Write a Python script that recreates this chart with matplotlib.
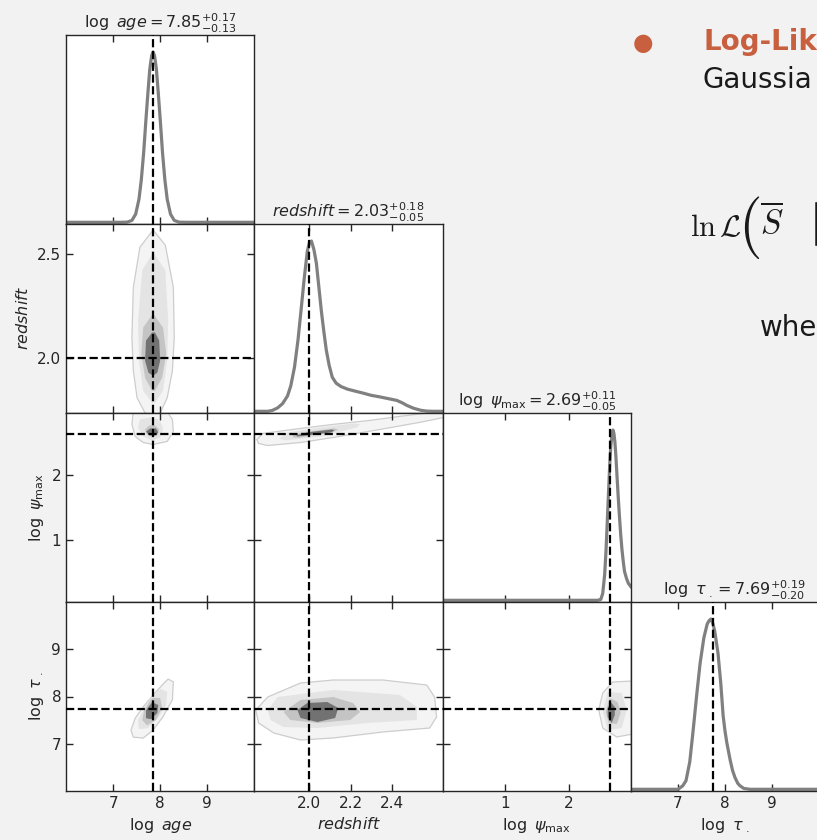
import matplotlib.pyplot as plt

# --- posterior summary (titles) and true values (dashed lines) ---
medians = [7.85, 2.03, 2.69, 7.69]
err_hi = [0.17, 0.18, 0.11, 0.19]
err_lo = [0.13, 0.05, 0.05, 0.20]
truths = [7.85, 2.00, 2.65, 7.74]

labels = [r"\log\ age", r"redshift", r"\log\ \psi_{\max}", r"\log\ \tau_{\ .}"]

xticks = [[7, 8, 9], [2.0, 2.2, 2.4], [1, 2], [7, 8, 9]]
xticklabels = [["7", "8", "9"], ["2.0", "2.2", "2.4"], ["1", "2"], ["7", "8", "9"]]
yticks = [None, [2.0, 2.5], [1, 2], [7, 8, 9]]
yticklabels = [None, ["2.0", "2.5"], ["1", "2"], ["7", "8", "9"]]
lims = [(6.0, 10.0), (1.733, 2.646), (0.03, 2.97), (6.0, 10.0)]

# --- 1D marginals (peak = 1) ---
age_x = [6.0, 7.15, 7.3, 7.4, 7.48, 7.55, 7.6, 7.65, 7.7, 7.74, 7.78, 7.82, 7.85, 7.88,
         7.92, 7.96, 8.0, 8.05, 8.1, 8.15, 8.22, 8.3, 8.4, 8.55, 10.0]
age_p = [0.0, 0.0, 0.001, 0.011, 0.048, 0.135, 0.25, 0.41, 0.61, 0.76, 0.90, 0.98, 1.0, 0.98,
         0.90, 0.76, 0.61, 0.41, 0.25, 0.135, 0.048, 0.011, 0.001, 0.0, 0.0]

z_x = [1.733, 1.798, 1.82, 1.846, 1.87, 1.894, 1.91, 1.928, 1.945, 1.961, 1.975, 1.990, 2.000,
       2.010, 2.022, 2.034, 2.046, 2.058, 2.070, 2.082, 2.096, 2.111, 2.13, 2.154, 2.185, 2.217,
       2.26, 2.299, 2.34, 2.376, 2.424, 2.45, 2.472, 2.505, 2.540, 2.57, 2.602, 2.646]
z_p = [0.0, 0.0, 0.005, 0.02, 0.045, 0.09, 0.15, 0.26, 0.42, 0.61, 0.78, 0.94, 0.99,
       1.0, 0.95, 0.87, 0.73, 0.59, 0.47, 0.36, 0.27, 0.20, 0.165, 0.145, 0.13, 0.12,
       0.107, 0.094, 0.085, 0.076, 0.064, 0.05, 0.035, 0.018, 0.006, 0.001, 0.0, 0.0]

psi_x = [0.03, 2.45, 2.50, 2.53, 2.56, 2.58, 2.60, 2.62, 2.64, 2.655, 2.67, 2.69, 2.705, 2.72,
         2.735, 2.75, 2.77, 2.79, 2.81, 2.83, 2.85, 2.87, 2.90, 2.93, 2.97]
psi_p = [0.0, 0.0, 0.005, 0.04, 0.15, 0.28, 0.45, 0.63, 0.80, 0.90, 0.96, 1.0, 0.98, 0.93,
         0.85, 0.75, 0.62, 0.50, 0.39, 0.30, 0.23, 0.17, 0.13, 0.10, 0.08]

tau_x = [6.0, 7.0, 7.1, 7.17, 7.25, 7.32, 7.40, 7.47, 7.55, 7.62, 7.66, 7.70, 7.74, 7.78,
         7.85, 7.91, 7.96, 8.0, 8.04, 8.11, 8.16, 8.21, 8.27, 8.32, 8.4, 8.53, 10.0]
tau_p = [0.0, 0.0, 0.02, 0.05, 0.16, 0.34, 0.56, 0.74, 0.89, 0.97, 0.99, 1.0, 0.975, 0.93,
         0.80, 0.62, 0.43, 0.34, 0.27, 0.17, 0.11, 0.07, 0.035, 0.02, 0.005, 0.0, 0.0]

# --- 2D credible regions: outline points per level, outer -> inner ---
age_z = [
    [(7.85, 2.617), (7.57, 2.534), (7.43, 2.340), (7.40, 2.097), (7.43, 1.937), (7.51, 1.806),
     (7.68, 1.733), (7.85, 1.719), (8.00, 1.733), (8.15, 1.806), (8.26, 1.937), (8.30, 2.097),
     (8.28, 2.340), (8.11, 2.544)],
    [(7.85, 2.510), (7.62, 2.423), (7.53, 2.180), (7.55, 1.986), (7.64, 1.840), (7.83, 1.782),
     (7.89, 1.782), (8.06, 1.840), (8.15, 1.986), (8.17, 2.180), (8.11, 2.423)],
    [(7.85, 2.214), (7.64, 2.146), (7.60, 2.020), (7.68, 1.903), (7.83, 1.840), (7.89, 1.840),
     (8.04, 1.903), (8.13, 2.020), (8.06, 2.146)],
    [(7.83, 2.122), (7.89, 2.122), (7.98, 2.083), (8.00, 1.986), (7.94, 1.928), (7.85, 1.913),
     (7.75, 1.928), (7.68, 1.986), (7.70, 2.083)],
]
age_psi = [
    [(7.43, 3.01), (7.40, 2.793), (7.47, 2.605), (7.64, 2.511), (7.85, 2.480), (8.15, 2.527),
     (8.28, 2.683), (8.26, 2.871), (8.13, 3.01)],
    [(7.57, 2.871), (7.53, 2.746), (7.64, 2.605), (7.83, 2.543), (8.00, 2.589), (8.06, 2.714),
     (8.00, 2.855), (7.83, 2.902)],
    [(7.68, 2.714), (7.77, 2.777), (7.89, 2.777), (7.98, 2.714), (7.94, 2.621), (7.81, 2.605),
     (7.70, 2.652)],
    [(7.70, 2.683), (7.79, 2.730), (7.91, 2.730), (7.96, 2.668), (7.89, 2.621), (7.77, 2.621)],
]
z_psi = [
    [(1.745, 2.558), (1.774, 2.652), (1.846, 2.683), (1.957, 2.730), (2.116, 2.793), (2.294, 2.855),
     (2.439, 2.918), (2.559, 2.964), (2.655, 3.011), (2.655, 2.902), (2.535, 2.824), (2.342, 2.714),
     (2.116, 2.589), (1.957, 2.511), (1.798, 2.464), (1.754, 2.496)],
    [(1.855, 2.574), (1.894, 2.668), (2.058, 2.746), (2.217, 2.808), (2.246, 2.793), (2.231, 2.746),
     (2.058, 2.605), (1.880, 2.543)],
    [(1.918, 2.621), (1.961, 2.668), (2.121, 2.730), (2.140, 2.714), (2.121, 2.683), (1.957, 2.589),
     (1.923, 2.589)],
    [(1.937, 2.621), (1.990, 2.668), (2.111, 2.714), (2.121, 2.699), (2.106, 2.668), (1.942, 2.605)],
]
age_tau = [
    [(8.17, 8.37), (8.28, 8.31), (8.26, 7.93), (8.06, 7.57), (7.85, 7.29), (7.64, 7.12),
     (7.43, 7.14), (7.38, 7.29), (7.47, 7.54), (7.64, 7.78), (7.85, 8.03), (8.04, 8.24)],
    [(8.00, 8.16), (8.15, 8.10), (8.13, 7.82), (7.96, 7.55), (7.74, 7.33), (7.55, 7.31),
     (7.53, 7.50), (7.66, 7.76), (7.83, 8.01)],
    [(7.83, 7.97), (8.00, 7.97), (8.04, 7.76), (7.91, 7.50), (7.72, 7.39), (7.62, 7.50),
     (7.66, 7.71)],
    [(7.83, 7.88), (7.96, 7.82), (7.94, 7.65), (7.81, 7.52), (7.70, 7.54), (7.70, 7.71)],
]
z_tau = [
    [(1.740, 7.714), (1.798, 7.989), (1.957, 8.286), (2.116, 8.349), (2.357, 8.349), (2.569, 8.243),
     (2.607, 7.989), (2.617, 7.566), (2.583, 7.333), (2.357, 7.249), (2.116, 7.122), (1.957, 7.079),
     (1.827, 7.228), (1.754, 7.439)],
    [(1.798, 7.714), (1.846, 7.989), (2.116, 8.138), (2.439, 8.032), (2.521, 7.778), (2.521, 7.503),
     (2.280, 7.439), (2.039, 7.333), (1.875, 7.354), (1.812, 7.503)],
    [(1.875, 7.672), (1.957, 7.926), (2.116, 7.989), (2.212, 7.862), (2.246, 7.672), (2.198, 7.503),
     (2.039, 7.439), (1.908, 7.503)],
    [(1.942, 7.714), (1.990, 7.862), (2.087, 7.884), (2.140, 7.757), (2.125, 7.545), (2.039, 7.460),
     (1.957, 7.545)],
]
psi_tau = [
    [(2.686, 8.307), (3.0, 8.328), (3.0, 7.206), (2.749, 7.143), (2.530, 7.333), (2.468, 7.714),
     (2.530, 8.074)],
    [(2.608, 8.095), (2.827, 8.074), (2.905, 7.714), (2.827, 7.333), (2.608, 7.291), (2.530, 7.672)],
    [(2.639, 7.968), (2.764, 7.884), (2.811, 7.651), (2.749, 7.418), (2.624, 7.439), (2.577, 7.672)],
    [(2.655, 7.884), (2.718, 7.778), (2.718, 7.609), (2.671, 7.439), (2.608, 7.566), (2.608, 7.757)],
]

marginals = [(age_x, age_p), (z_x, z_p), (psi_x, psi_p), (tau_x, tau_p)]
regions = {(1, 0): age_z, (2, 0): age_psi, (2, 1): z_psi,
           (3, 0): age_tau, (3, 1): z_tau, (3, 2): psi_tau}

level_colors = ["#f4f4f4", "#e4e4e4", "#c4c4c4", "#727272"]
ink = "#262626"

fig = plt.figure(figsize=(8.17, 8.40), dpi=100)
fig.patch.set_facecolor("#f2f2f2")

W, H = 817.0, 840.0
x0, y0, cw, ch = 66.0, 35.0, 188.3, 189.0

for i in range(4):
    for j in range(i + 1):
        left = (x0 + cw * j) / W
        bottom = 1 - (y0 + ch * (i + 1)) / H
        ax = fig.add_axes([left, bottom, cw / W, ch / H])
        ax.set_facecolor("white")
        for s in ax.spines.values():
            s.set_color(ink)
            s.set_linewidth(1.0)
        ax.tick_params(direction="in", length=5, width=1, colors=ink,
                       labelsize=11, top=True, right=True)

        ax.set_xlim(lims[j])
        ax.set_xticks(xticks[j])
        if i == 3:
            ax.set_xticklabels(xticklabels[j])
            ax.set_xlabel("$" + labels[j] + "$", fontsize=11.5, color=ink)
        else:
            ax.set_xticklabels([])

        if i == j:
            px, pp = marginals[i]
            ax.plot(px, pp, color="#808080", lw=2.3, solid_joinstyle="round", zorder=2)
            ax.axvline(truths[i], color="k", ls="--", lw=1.6, zorder=3)
            ax.set_ylim(-0.01, 1.1)
            ax.set_yticks([])
            ttl = (f"${labels[i]} = {medians[i]:.2f}"
                   f"^{{+{err_hi[i]:.2f}}}_{{-{err_lo[i]:.2f}}}$")
            t = ax.set_title(ttl, fontsize=11.5, color=ink, pad=5)
            if i == 3:
                t.set_x(0.548)
            continue

        for level, poly in enumerate(regions[(i, j)]):
            xs = [p[0] for p in poly]
            ys = [p[1] for p in poly]
            if level == 0:
                ax.fill(xs, ys, facecolor=level_colors[0], edgecolor="#cdcdcd",
                        lw=0.9, zorder=1)
            else:
                ax.fill(xs, ys, facecolor=level_colors[level], edgecolor="none", zorder=1 + level)
        ax.axvline(truths[j], color="k", ls="--", lw=1.6, zorder=6)
        ax.axhline(truths[i], color="k", ls="--", lw=1.6, zorder=6)

        ax.set_ylim(lims[i])
        ax.set_yticks(yticks[i])
        if j == 0:
            ax.set_yticklabels(yticklabels[i])
            ax.set_ylabel("$" + labels[i] + "$", fontsize=11.5, color=ink)
        else:
            ax.set_yticklabels([])

# slide text that is partly visible on the right
accent = "#c8603f"
fig.text(643 / W, 1 - 43 / H, "\u25cf", color=accent, fontsize=17, ha="center", va="center")
fig.text(703 / W, 1 - 42 / H, "Log-Lik", color=accent, fontsize=20, fontweight="bold",
         ha="left", va="center")
fig.text(703 / W, 1 - 80 / H, "Gaussia", color="#1a1a1a", fontsize=20, ha="left", va="center")
fig.text(690 / W, 1 - 228 / H, r"$\ln\mathcal{L}$", math_fontfamily="cm", fontsize=22,
         color="#1a1a1a", ha="left", va="center")
fig.text(738 / W, 1 - 228 / H, r"$($", math_fontfamily="cm", fontsize=44,
         color="#1a1a1a", ha="left", va="center")
fig.text(760 / W, 1 - 222 / H, r"$\overline{S}$", math_fontfamily="cm", fontsize=24,
         color="#1a1a1a", ha="left", va="center")
fig.text(809 / W, 1 - 224 / H, r"$|$", math_fontfamily="cm", fontsize=32,
         color="#1a1a1a", ha="left", va="center")
fig.text(760 / W, 1 - 328 / H, "whe", color="#1a1a1a", fontsize=20, ha="left", va="center")

fig.savefig("out.png", dpi=100, facecolor=fig.get_facecolor())
